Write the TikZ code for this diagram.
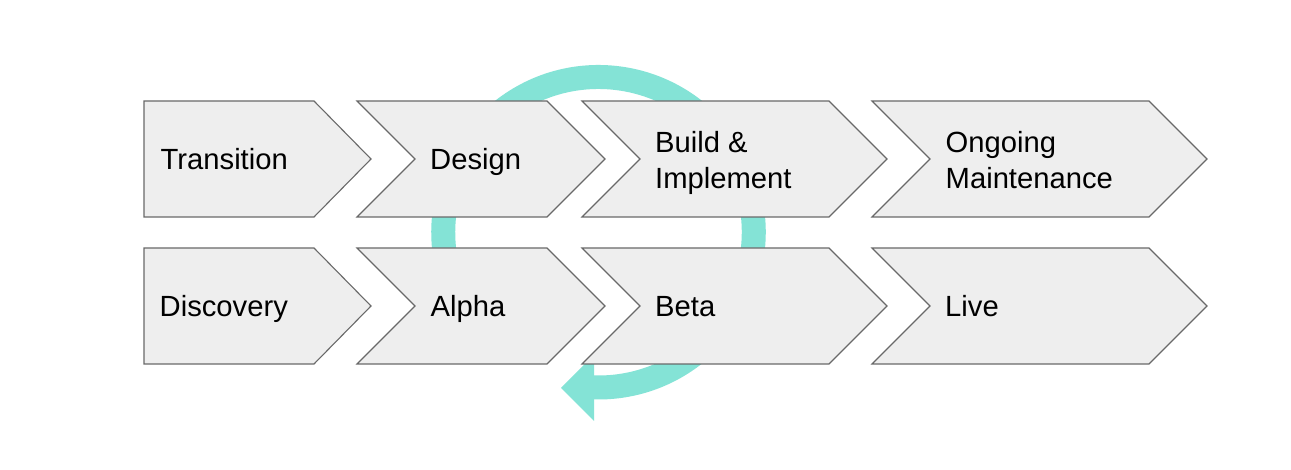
\documentclass[tikz,border=0pt]{standalone}
\usepackage{fontspec}
\setmainfont{Liberation Sans}
\definecolor{chevfill}{RGB}{238,238,238}
\definecolor{chevline}{RGB}{105,105,105}
\definecolor{cycleteal}{RGB}{132,227,214}
\begin{document}
\begin{tikzpicture}[x=1pt,y=1pt,
  chev/.style={fill=chevfill,draw=chevline,line width=1.1pt,line join=miter},
  lbl/.style={anchor=base west,inner sep=0pt,font=\fontsize{29.2}{35.5}\selectfont,text=black},
  cyc/.style={draw=cycleteal,line width=24pt},
  cychead/.style={fill=cycleteal}]
\useasboundingbox (0,0) rectangle (1291,470);
\fill[white] (0,0) rectangle (1291,470);
% circular arrow (behind the chevrons)
\coordinate (c) at (598.5,237.75);
\draw[cyc] ([shift={(215:155.25pt)}]c) arc[start angle=215,end angle=-92,radius=155.25pt];
\coordinate (hb1) at (594,115);
\coordinate (htip) at (561,82);
\coordinate (hb2) at (594,49);
\fill[cychead] (hb1) -- (htip) -- (hb2) -- cycle;
% row 1 chevrons
\path[chev] (144,369) -- (314,369) -- (371,311) -- (314,253) -- (144,253) -- cycle;
\path[chev] (357,369) -- (547,369) -- (605,311) -- (547,253) -- (357,253) -- (415,311) -- cycle;
\path[chev] (582,369) -- (829,369) -- (887,311) -- (829,253) -- (582,253) -- (640,311) -- cycle;
\path[chev] (872,369) -- (1149,369) -- (1207,311) -- (1149,253) -- (872,253) -- (930,311) -- cycle;
% row 2 chevrons
\path[chev] (144,222) -- (314,222) -- (371,164) -- (314,106) -- (144,106) -- cycle;
\path[chev] (357,222) -- (547,222) -- (605,164) -- (547,106) -- (357,106) -- (415,164) -- cycle;
\path[chev] (582,222) -- (829,222) -- (887,164) -- (829,106) -- (582,106) -- (640,164) -- cycle;
\path[chev] (872,222) -- (1149,222) -- (1207,164) -- (1149,106) -- (872,106) -- (930,164) -- cycle;
% labels
\node[lbl] (transition) at (160.5,300) {Transition};
\node[lbl] (design) at (430,300) {Design};
\node[lbl] (build) at (655,317) {\begin{tabular}[t]{@{}l@{}}Build \&\\Implement\end{tabular}};
\node[lbl] (ongoing) at (945.5,317) {\begin{tabular}[t]{@{}l@{}}Ongoing\\Maintenance\end{tabular}};
\node[lbl] (discovery) at (159.5,153) {Discovery};
\node[lbl] (alpha) at (430.5,153) {Alpha};
\node[lbl] (beta) at (655,153) {Beta};
\node[lbl] (live) at (945,153) {Live};
\end{tikzpicture}
\end{document}
